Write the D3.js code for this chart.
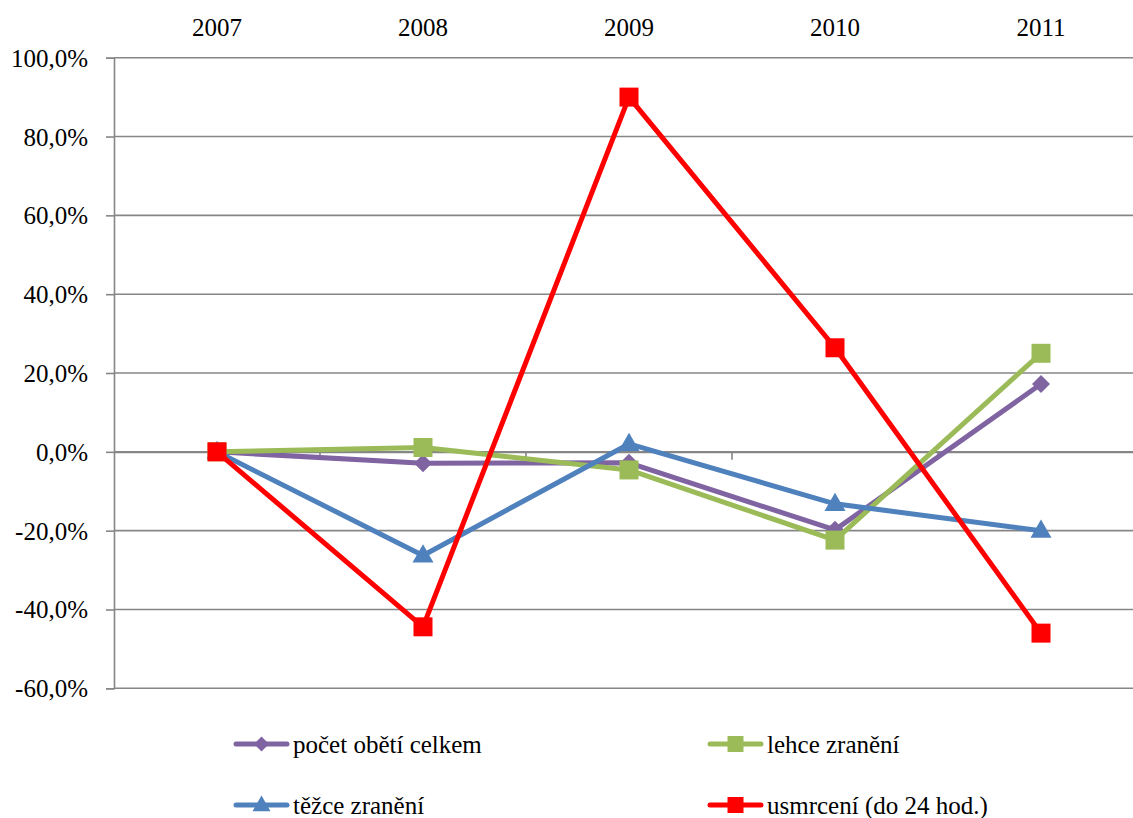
<!DOCTYPE html>
<html>
<head>
<meta charset="utf-8">
<script src="https://cdn.jsdelivr.net/npm/d3@7"></script>
<style>
  html, body { margin: 0; padding: 0; background: #fff; }
  svg { display: block; }
</style>
</head>
<body>
<svg id="chart" width="1133" height="818" font-family="Liberation Serif"></svg>
<script>
// Year-on-year change (%) by category
const years = ["2007", "2008", "2009", "2010", "2011"];
const pocetObeti = [0, -2.9, -2.8, -19.8, 17.2];
const lehceZraneni = [0, 1.1, -4.6, -22.4, 25.0];
const tezceZraneni = [0, -26.3, 2.0, -13.2, -20.0];
const usmrceni = [0, -44.4, 90.0, 26.4, -46.0];
const seriesNames = ["počet obětí celkem", "lehce zranění", "těžce zranění", "usmrcení (do 24 hod.)"];
const yTicks = [-60, -40, -20, 0, 20, 40, 60, 80, 100];

const series = [
  { name: seriesNames[0], values: pocetObeti, color: "#8064A2", marker: "diamond" },
  { name: seriesNames[1], values: lehceZraneni, color: "#9BBB59", marker: "square" },
  { name: seriesNames[2], values: tezceZraneni, color: "#4F81BD", marker: "triangle" },
  { name: seriesNames[3], values: usmrceni, color: "#FF0000", marker: "square" }
];

const FONT = "Liberation Serif";
const svg = d3.select("#chart");
const plot = { left: 114, right: 1144, top: 57.7, bottom: 688.3 };

const x = d3.scaleBand().domain(years).range([plot.left, plot.right]);
const cx = d => x(d) + x.bandwidth() / 2;
const y = d3.scaleLinear().domain([-60, 100]).range([plot.bottom, plot.top]);

const locale = d3.formatLocale({ decimal: ",", thousands: " ", grouping: [3], currency: ["", ""], minus: "-" });
const fmt = v => locale.format(".1f")(v) + "%";

const gridColor = "#868686";

// horizontal gridlines
svg.append("g")
  .selectAll("line")
  .data(yTicks)
  .join("line")
  .attr("x1", plot.left).attr("x2", plot.right)
  .attr("y1", d => y(d)).attr("y2", d => y(d))
  .attr("stroke", gridColor).attr("stroke-width", 1.6);

// value axis
const yAxis = svg.append("g")
  .attr("transform", `translate(${plot.left},0)`)
  .call(d3.axisLeft(y).tickValues(yTicks).tickFormat(fmt).tickSize(8).tickPadding(18));
yAxis.attr("font-family", FONT).attr("font-size", 25);
yAxis.select(".domain").attr("stroke", gridColor).attr("stroke-width", 1.6);
yAxis.selectAll(".tick line").attr("stroke", gridColor).attr("stroke-width", 1.6);
yAxis.selectAll(".tick text")
  .attr("font-family", FONT)
  .attr("font-size", 25).attr("fill", "#000").attr("dy", "0.34em");

// category axis along 0 with ticks between categories
const xAxis = svg.append("g")
  .attr("transform", `translate(0,${y(0)})`)
  .call(d3.axisBottom(x).tickSize(0).tickFormat(""));
xAxis.select(".domain").attr("stroke", gridColor).attr("stroke-width", 1.6);
svg.append("g")
  .selectAll("line")
  .data(years.slice(1))
  .join("line")
  .attr("x1", d => x(d)).attr("x2", d => x(d))
  .attr("y1", y(0)).attr("y2", y(0) + 8)
  .attr("stroke", gridColor).attr("stroke-width", 1.6);

// category labels along the top
svg.append("g")
  .selectAll("text")
  .data(years)
  .join("text")
  .attr("x", d => cx(d))
  .attr("y", 35.5)
  .attr("text-anchor", "middle")
  .attr("font-family", FONT)
  .attr("font-size", 25)
  .text(d => d);

function markerPath(type, s) {
  if (type === "square") return d3.symbol(d3.symbolSquare, s * s)();
  if (type === "diamond") return d3.symbol(d3.symbolSquare, (s * s) / 2)();
  return d3.symbol(d3.symbolTriangle, (Math.sqrt(3) / 4) * s * s)();
}
function markerTransform(type, px, py) {
  if (type === "diamond") return `translate(${px},${py}) rotate(45)`;
  if (type === "triangle") return `translate(${px},${py + 1})`;
  return `translate(${px},${py})`;
}

const line = d3.line().x((d, i) => cx(years[i])).y(d => y(d));

series.forEach(s => {
  const g = svg.append("g");
  g.append("path")
    .datum(s.values)
    .attr("d", line)
    .attr("fill", "none")
    .attr("stroke", s.color)
    .attr("stroke-width", 5)
    .attr("stroke-linejoin", "round");
  const size = s.marker === "triangle" ? 21 : (s.marker === "diamond" ? 18 : 19);
  g.selectAll("path.mk")
    .data(s.values)
    .join("path")
    .attr("class", "mk")
    .attr("d", markerPath(s.marker, size))
    .attr("transform", (d, i) => markerTransform(s.marker, cx(years[i]), y(d)))
    .attr("fill", s.color);
});

// legend, two columns by two rows
const legendPos = [
  { x: 234, y: 744 },
  { x: 708, y: 744 },
  { x: 234, y: 805 },
  { x: 708, y: 805 }
];
series.forEach((s, i) => {
  const p = legendPos[i];
  const g = svg.append("g").attr("transform", `translate(${p.x},${p.y})`);
  g.append("line")
    .attr("x1", 2).attr("x2", 53).attr("y1", 0).attr("y2", 0)
    .attr("stroke", s.color).attr("stroke-width", 5).attr("stroke-linecap", "round");
  const size = s.marker === "triangle" ? 18 : (s.marker === "diamond" ? 15 : 16);
  g.append("path")
    .attr("d", markerPath(s.marker, size))
    .attr("transform", markerTransform(s.marker, 27.5, 0))
    .attr("fill", s.color);
  g.append("text")
    .attr("x", 59)
    .attr("y", 9)
    .attr("font-family", FONT)
    .attr("font-size", 25)
    .text(s.name);
});
</script>
</body>
</html>
